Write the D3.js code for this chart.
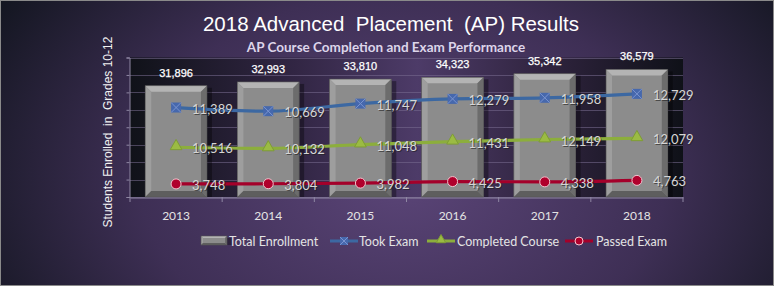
<!DOCTYPE html>
<html lang="en">
  <head>
    <script src="https://cdn.jsdelivr.net/npm/d3@7"></script>
    <style>
      body {
        margin: 0;
        background: #1a1a24;
      }
      svg {
        display: block;
      }
      .title {
        font-family: 'Liberation Sans', Arial, sans-serif;
        white-space: pre;
      }
      .calib {
        font-family: Lato, 'Open Sans', sans-serif;
      }
    </style>
  </head>
  <body>
    <svg></svg>
  </body>
  <script>

    // Chart data
    const years = ['2013', '2014', '2015', '2016', '2017', '2018'];
    const totalEnrollment = [31896, 32993, 33810, 34323, 35342, 36579];
    const tookExam = [11389, 10669, 11747, 12279, 11958, 12729];
    const completedCourse = [10516, 10132, 11048, 11431, 12149, 12079];
    const passedExam = [3748, 3804, 3982, 4425, 4338, 4763];
    const yTicks = [0, 5000, 10000, 15000, 20000, 25000, 30000, 35000, 40000];

    const width = 774;
    const height = 286;
    const plot = { left: 130, right: 683, top: 57.5, bottom: 197 };

    const svg = d3.select('svg')
        .attr('width', width)
        .attr('height', height);

    const defs = svg.append('defs');

    // Background gradients
    const bg = defs.append('radialGradient')
        .attr('id', 'bgGrad')
        .attr('cx', '0.52').attr('cy', '0.62').attr('r', '0.62')
        .attr('gradientTransform', 'translate(0.52,0.62) scale(1,1.9) translate(-0.52,-0.62)');
    bg.append('stop').attr('offset', '0%').attr('stop-color', '#5b4578');
    bg.append('stop').attr('offset', '55%').attr('stop-color', '#3e2f55');
    bg.append('stop').attr('offset', '100%').attr('stop-color', '#12151f');

    const pg = defs.append('linearGradient')
        .attr('id', 'plotGrad')
        .attr('x1', '0').attr('x2', '1').attr('y1', '0').attr('y2', '0');
    pg.append('stop').attr('offset', '0%').attr('stop-color', '#101219');
    pg.append('stop').attr('offset', '30%').attr('stop-color', '#322644');
    pg.append('stop').attr('offset', '52%').attr('stop-color', '#4d3b68');
    pg.append('stop').attr('offset', '75%').attr('stop-color', '#30243f');
    pg.append('stop').attr('offset', '100%').attr('stop-color', '#0f1118');

    svg.append('rect')
        .attr('x', 0.5).attr('y', 0.5)
        .attr('width', width - 1).attr('height', height - 1)
        .attr('fill', 'url(#bgGrad)')
        .attr('stroke', '#8a8a8a');

    // Scales
    const x = d3.scaleBand()
        .domain(years)
        .range([plot.left, plot.right])
        .paddingInner(0.33)
        .paddingOuter(0.165);

    const y = d3.scaleLinear()
        .domain([0, 40000])
        .range([plot.bottom, plot.top]);

    // Plot area
    svg.append('rect')
        .attr('x', plot.left).attr('y', plot.top)
        .attr('width', plot.right - plot.left)
        .attr('height', plot.bottom - plot.top)
        .attr('fill', 'url(#plotGrad)');

    // Gridlines
    svg.append('g')
        .selectAll('line')
        .data(yTicks)
      .enter().append('line')
        .attr('x1', plot.left).attr('x2', plot.right)
        .attr('y1', d => Math.round(y(d)) + 0.5)
        .attr('y2', d => Math.round(y(d)) + 0.5)
        .attr('stroke', '#7a6d92')
        .attr('stroke-opacity', 0.55);

    // Y axis (ticks only)
    const yAxis = svg.append('g')
        .attr('transform', 'translate(' + (plot.left - 0.5) + ',0)')
        .call(d3.axisLeft(y).tickValues(yTicks).tickSize(3).tickFormat(''));
    yAxis.selectAll('line, path').attr('stroke', '#8f87a3');

    // X axis
    const xAxis = svg.append('g')
        .attr('transform', 'translate(0,' + (plot.bottom + 0.5) + ')')
        .call(d3.axisBottom(x).tickSize(0).tickPadding(14));
    xAxis.select('.domain').attr('stroke', '#8f87a3');
    xAxis.selectAll('text')
        .attr('class', 'calib')
        .style('font-size', '12px')
        .attr('fill', '#e4e4e4');
    const step = x.step();
    svg.append('g')
        .selectAll('line')
        .data(d3.range(years.length + 1))
      .enter().append('line')
        .attr('x1', i => plot.left + i * step)
        .attr('x2', i => plot.left + i * step)
        .attr('y1', plot.bottom)
        .attr('y2', plot.bottom + 5)
        .attr('stroke', '#8f87a3');

    // Bevelled bars
    function bevelBar(g, bx, by, bw, bh, b) {
      g.append('rect')
          .attr('x', bx + 3).attr('y', by + 2)
          .attr('width', bw + 2).attr('height', bh - 2)
          .attr('fill', '#000').attr('opacity', 0.35);
      g.append('rect')
          .attr('x', bx).attr('y', by)
          .attr('width', bw).attr('height', bh)
          .attr('fill', '#8c8c8c');
      const pts = (arr) => arr.map(p => p.join(',')).join(' ');
      g.append('polygon')
          .attr('points', pts([[bx, by], [bx + bw, by], [bx + bw - b, by + b], [bx + b, by + b]]))
          .attr('fill', '#b4b4b4');
      g.append('polygon')
          .attr('points', pts([[bx, by], [bx + b, by + b], [bx + b, by + bh - b], [bx, by + bh]]))
          .attr('fill', '#9e9e9e');
      g.append('polygon')
          .attr('points', pts([[bx + bw, by], [bx + bw, by + bh], [bx + bw - b, by + bh - b], [bx + bw - b, by + b]]))
          .attr('fill', '#6c6c6c');
      g.append('polygon')
          .attr('points', pts([[bx, by + bh], [bx + b, by + bh - b], [bx + bw - b, by + bh - b], [bx + bw, by + bh]]))
          .attr('fill', '#5e5e5e');
      g.append('rect')
          .attr('x', bx).attr('y', by)
          .attr('width', bw).attr('height', bh)
          .attr('fill', 'none')
          .attr('stroke', '#555').attr('stroke-width', 0.6);
    }

    const bars = svg.append('g');
    years.forEach((yr, i) => {
      const g = bars.append('g');
      bevelBar(g, x(yr), y(totalEnrollment[i]), x.bandwidth(), y(0) - y(totalEnrollment[i]), 6);
    });

    // Bar labels
    svg.append('g')
        .selectAll('text')
        .data(years)
      .enter().append('text')
        .attr('class', 'title')
        .attr('x', d => x(d) + x.bandwidth() / 2)
        .attr('y', (d, i) => y(totalEnrollment[i]) - 9)
        .attr('text-anchor', 'middle')
        .style('font-size', '11px')
        .attr('fill', '#ffffff')
        .attr('stroke', '#ffffff')
        .attr('stroke-width', 0.25)
        .text((d, i) => d3.format(',')(totalEnrollment[i]));

    // Stacked lines
    const cumPassed = passedExam.slice();
    const cumCompleted = completedCourse.map((v, i) => v + passedExam[i]);
    const cumTook = tookExam.map((v, i) => v + cumCompleted[i]);

    const series = [
      { name: 'Took Exam', raw: tookExam, stack: cumTook, color: '#3c68a2', marker: 'x' },
      { name: 'Completed Course', raw: completedCourse, stack: cumCompleted, color: '#8cae3c', marker: 'tri' },
      { name: 'Passed Exam', raw: passedExam, stack: cumPassed, color: '#a4002a', marker: 'circle' }
    ];

    const cx = d => x(d) + x.bandwidth() / 2;
    const line = d3.line()
        .x(d => cx(d.year))
        .y(d => y(d.v))
        .curve(d3.curveMonotoneX);

    function drawMarker(g, type, mx, my, s) {
      const k = s || 1;
      if (type === 'x') {
        g.append('rect')
            .attr('x', mx - 5 * k).attr('y', my - 5 * k)
            .attr('width', 10 * k).attr('height', 10 * k)
            .attr('fill', '#4668ad');
        g.append('path')
            .attr('d', 'M' + (mx - 5 * k) + ',' + (my - 5 * k) + 'L' + (mx + 5 * k) + ',' + (my + 5 * k) +
                       'M' + (mx + 5 * k) + ',' + (my - 5 * k) + 'L' + (mx - 5 * k) + ',' + (my + 5 * k))
            .attr('stroke', '#7b94cf').attr('stroke-width', 1);
      } else if (type === 'tri') {
        g.append('path')
            .attr('d', d3.symbol().type(d3.symbolTriangle).size(60 * k * k)())
            .attr('transform', 'translate(' + mx + ',' + (my - 1) + ')')
            .attr('fill', '#9bbb43')
            .attr('stroke', '#7e9c35').attr('stroke-width', 1);
      } else {
        g.append('circle')
            .attr('cx', mx).attr('cy', my).attr('r', 5 * k)
            .attr('fill', '#b0002c')
            .attr('stroke', '#f3c6d0').attr('stroke-width', 1);
      }
    }

    series.forEach(s => {
      const pts = years.map((yr, i) => ({ year: yr, v: s.stack[i] }));
      svg.append('path')
          .datum(pts)
          .attr('d', line)
          .attr('fill', 'none')
          .attr('stroke', s.color)
          .attr('stroke-width', 3.2);
      const mg = svg.append('g');
      pts.forEach(p => drawMarker(mg, s.marker, cx(p.year), y(p.v)));
      const lg = svg.append('g').attr('class', 'calib');
      lg.selectAll('text.sh')
          .data(pts)
        .enter().append('text')
          .attr('x', d => cx(d.year) + 17)
          .attr('y', d => y(d.v) + 7)
          .style('font-size', '13px')
          .attr('fill', '#202020')
          .attr('opacity', 0.6)
          .text((d, i) => d3.format(',')(s.raw[i]));
      lg.selectAll('text.lb')
          .data(pts)
        .enter().append('text')
          .attr('x', d => cx(d.year) + 16)
          .attr('y', d => y(d.v) + 6)
          .style('font-size', '13px')
          .attr('fill', '#d6d6d6')
          .text((d, i) => d3.format(',')(s.raw[i]));
    });

    // Titles
    svg.append('text')
        .attr('class', 'title')
        .attr('x', 391).attr('y', 31)
        .attr('text-anchor', 'middle')
        .style('font-size', '20.5px')
        .attr('fill', '#ffffff')
        .text('2018 Advanced  Placement  (AP) Results');

    svg.append('text')
        .attr('class', 'calib')
        .attr('x', 386).attr('y', 51.5)
        .attr('text-anchor', 'middle')
        .style('font-size', '13.5px')
        .style('font-weight', 700)
        .attr('fill', '#ddd5ea')
        .text('AP Course Completion and Exam Performance');

    svg.append('text')
        .attr('class', 'title')
        .attr('transform', 'translate(112,132) rotate(-90)')
        .attr('text-anchor', 'middle')
        .style('font-size', '12px')
        .attr('fill', '#f2f2f2')
        .text('Students Enrolled  in  Grades 10-12');

    // Legend
    const legend = svg.append('g').attr('class', 'calib');
    const ly = 241;
    bevelBar(legend, 201, ly - 5, 26, 9, 2);
    legend.append('text')
        .attr('x', 229).attr('y', ly + 4.5)
        .style('font-size', '12.5px').attr('fill', '#e4e4e4')
        .text('Total Enrollment');

    const legendItems = [
      { s: series[0], x0: 330, tx: 359 },
      { s: series[1], x0: 427, tx: 457 },
      { s: series[2], x0: 565, tx: 596 }
    ];
    legendItems.forEach(it => {
      legend.append('line')
          .attr('x1', it.x0).attr('x2', it.x0 + 28)
          .attr('y1', ly).attr('y2', ly)
          .attr('stroke', it.s.color).attr('stroke-width', 3);
      drawMarker(legend, it.s.marker, it.x0 + 14, ly, 0.8);
      legend.append('text')
          .attr('x', it.tx).attr('y', ly + 4.5)
          .style('font-size', '12.5px').attr('fill', '#e4e4e4')
          .text(it.s.name);
    });
  </script>
</html>
